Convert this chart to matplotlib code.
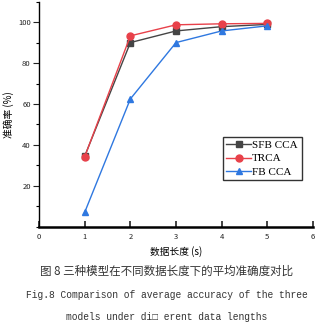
import matplotlib
matplotlib.use("Agg")
import matplotlib.pyplot as plt
from matplotlib.ticker import MultipleLocator

plt.rcParams['font.family'] = ['Noto Sans CJK SC', 'DejaVu Sans']

# accuracy (%) against data length (s)
lengths = [1, 2, 3, 4, 5]
sfb_cca = [34.5, 90.1, 95.8, 97.9, 99.0]
trca = [34.2, 93.4, 98.8, 99.3, 99.5]
fb_cca = [7.0, 62.5, 90.1, 95.8, 98.3]

series_names = ['SFB CCA', 'TRCA', 'FB CCA']
caption_cn = '图 8 三种模型在不同数据长度下的平均准确度对比'
caption_en = ['Fig.8 Comparison of average accuracy of the three',
              'models under di\u25a1 erent data lengths']

fig = plt.figure(figsize=(3.34, 3.25), dpi=100)
ax = fig.add_axes([0.117, 0.303, 0.820, 0.691])

ax.plot(lengths, sfb_cca, color='#454545', marker='s', markersize=4.5,
        linewidth=1.0, label=series_names[0])
ax.plot(lengths, trca, color='#e8414a', marker='o', markersize=5,
        linewidth=1.0, label=series_names[1])
ax.plot(lengths, fb_cca, color='#2f78e0', marker='^', markersize=5,
        linewidth=1.0, label=series_names[2])

ax.set_xlim(0, 6)
ax.set_ylim(0, 110)
ax.xaxis.set_major_locator(MultipleLocator(1))
ax.yaxis.set_minor_locator(MultipleLocator(10))
ax.set_yticks([20, 40, 60, 80, 100])

for side in ['top', 'right']:
    ax.spines[side].set_visible(False)
ax.spines['left'].set_linewidth(1.0)
ax.spines['bottom'].set_linewidth(1.8)

ax.tick_params(axis='x', direction='in', length=4, width=1.2,
               labelsize=5.5, pad=5, colors='#222222')
ax.tick_params(axis='y', which='major', direction='out', length=4,
               width=0.8, labelsize=5.5, pad=2, colors='#222222')
ax.tick_params(axis='y', which='minor', direction='out', length=2.5, width=0.8)

ax.set_xlabel('数据长度 (s)', fontsize=7, labelpad=3)
ax.set_ylabel('准确率 (%)', fontsize=7, labelpad=3)

leg = ax.legend(loc='upper left', bbox_to_anchor=(0.67, 0.40),
                prop={'family': 'Liberation Serif', 'size': 8},
                frameon=True, fancybox=False, edgecolor='black',
                borderpad=0.35, labelspacing=0.3, handlelength=2.2,
                handletextpad=0.1, borderaxespad=0)
leg.get_frame().set_linewidth(1.0)

fig.text(0.5, 0.165, caption_cn, ha='center', va='center', fontsize=8.3,
         color='#333333')
fig.text(0.5, 0.092, caption_en[0], ha='center', va='center', fontsize=6.9,
         family=['Liberation Mono', 'DejaVu Sans Mono'], color='#333333')
fig.text(0.5, 0.026, caption_en[1], ha='center', va='center', fontsize=6.9,
         family=['Liberation Mono', 'DejaVu Sans Mono'], color='#333333')

fig.savefig('out.png', dpi=100)
